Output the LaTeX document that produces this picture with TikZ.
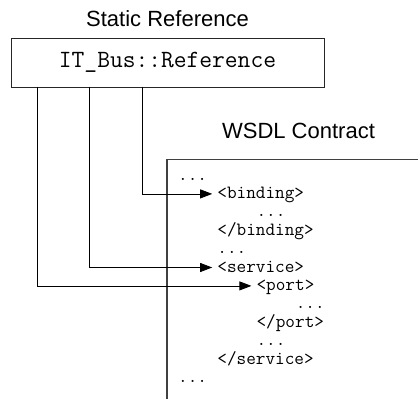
\documentclass[tikz,border=0pt]{standalone}
\usepackage{fontspec}
\setmainfont{Liberation Sans}
\usetikzlibrary{arrows.meta}
\tikzset{
  code/.style={anchor=base west, inner sep=0pt, font=\ttfamily\fontsize{18.7}{20}\selectfont},
  link/.style={-{Triangle[length=12pt,width=9pt]}, line width=0.8pt},
}
\begin{document}
\begin{tikzpicture}[x=1pt,y=-1pt]
    \useasboundingbox (0,0) rectangle (418,399);
    \fontsize{22}{26}\selectfont
    \node (title) at (167.5,18.5) {Static Reference};
    \node[draw, line width=1pt, black!85, text=black, minimum width=313pt, minimum height=49pt] (ref) at (167.5,62.5)
        {\ttfamily\fontsize{24.8}{28}\selectfont IT\_Bus::Reference};
    \node (wsdl) at (298.5,131) {WSDL Contract};
    \draw[line width=1.2pt, black!75] (418,159.5) -- (167,159.5) -- (167,399);

    % contract text
    \node[code] (c0)  at (178,180.0)   {...};
    \node[code] (c1)  at (217.2,198.4) {<binding>};
    \node[code] (c2)  at (256.4,216.8) {...};
    \node[code] (c3)  at (217.2,235.2) {</binding>};
    \node[code] (c4)  at (217.2,253.6) {...};
    \node[code] (c5)  at (217.2,272.0) {<service>};
    \node[code] (c6)  at (256.4,290.4) {<port>};
    \node[code] (c7)  at (295.6,308.8) {...};
    \node[code] (c8)  at (256.4,327.2) {</port>};
    \node[code] (c9)  at (256.4,345.6) {...};
    \node[code] (c10) at (217.2,364.0) {</service>};
    \node[code] (c11) at (178,382.4)   {...};

    \coordinate (a1) at (37,87);
    \coordinate (a2) at (89,87);
    \coordinate (a3) at (142,87);
    \draw[link] (a3) |- ([shift={(-5pt,4.5pt)}]c1.base west);
    \draw[link] (a2) |- ([shift={(-5pt,4.5pt)}]c5.base west);
    \draw[link] (a1) |- ([shift={(-5pt,4.5pt)}]c6.base west);
\end{tikzpicture}
\end{document}
